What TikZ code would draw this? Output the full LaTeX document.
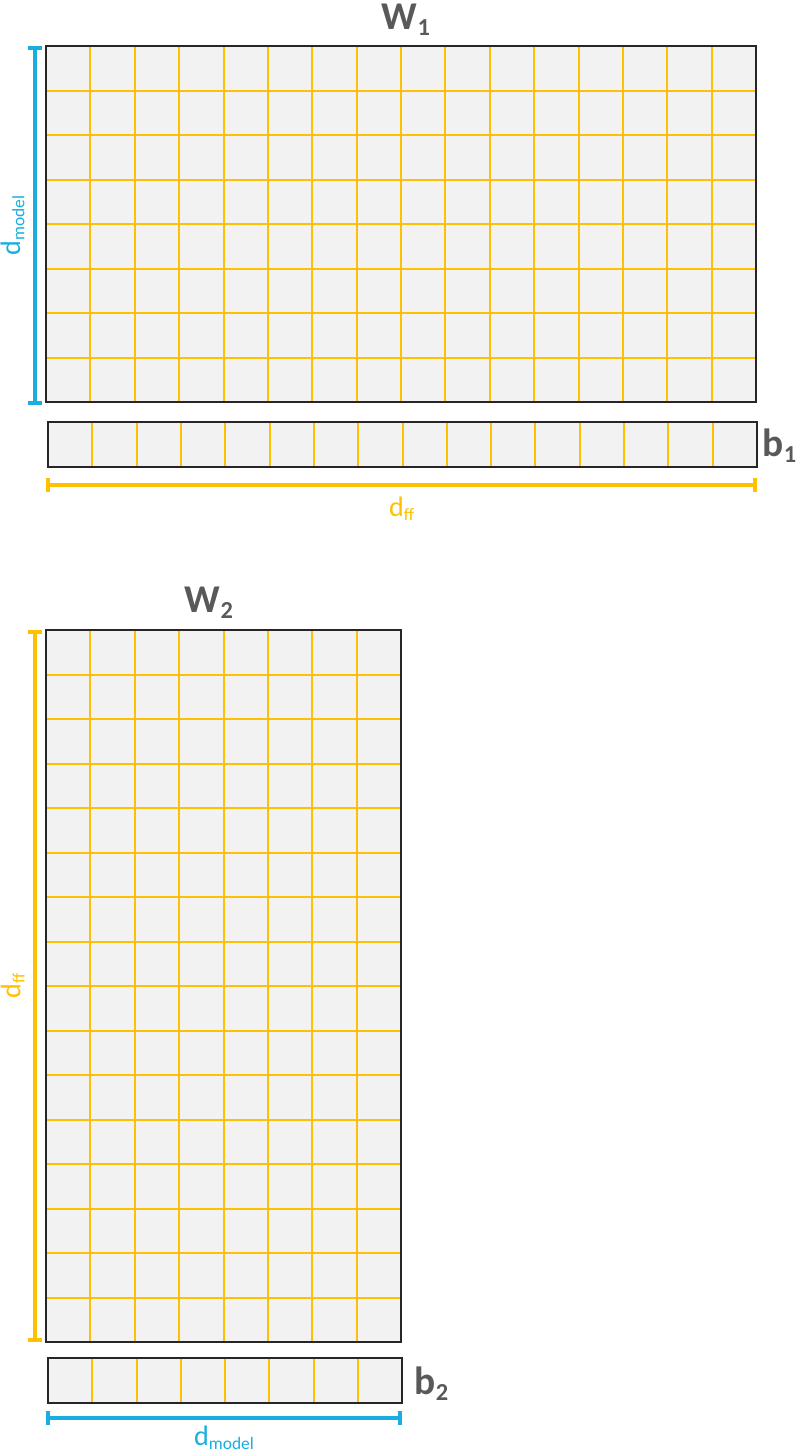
\documentclass[tikz,border=0pt]{standalone}
\usepackage{fontspec}
\setmainfont{Carlito}
\usetikzlibrary{arrows.meta}

\definecolor{cellgray}{HTML}{F2F2F2}
\definecolor{gridgold}{HTML}{FFC000}
\definecolor{dimblue}{HTML}{1AADE0}
\definecolor{labelgray}{HTML}{595959}

\newcommand{\lowsub}[1]{\raisebox{-0.32ex}{\fontsize{0.62em}{1em}\selectfont #1}}

\tikzset{
    matbox/.style={draw=black!85, line width=1.3pt},
    gridline/.style={draw=gridgold, line width=1.42pt},
    dimbar/.style={line width=2.8pt, {Bar[width=10pt]}-{Bar[width=10pt]}},
    matname/.style={text=labelgray, font=\fontsize{28}{30}\selectfont\bfseries, inner sep=1pt},
    dimname/.style={font=\fontsize{20}{22}\selectfont, inner sep=1pt},
}

\begin{document}
\begin{tikzpicture}[x=0.025cm, y=-0.025cm]
    \useasboundingbox (0,0) rectangle (800,1453);

    % W1 and b1
    \coordinate (w1tl) at (46, 46);
    \coordinate (w1br) at (756, 402);
    \fill[cellgray] (w1tl) rectangle (w1br);
    \foreach \i in {1,...,15}
        \draw[gridline] ({round(46+\i*710/16)}, 46) -- ({round(46+\i*710/16)}, 402);
    \foreach \j in {1,...,7}
        \draw[gridline] (46, {round(46+\j*356/8)}) -- (756, {round(46+\j*356/8)});
    \draw[matbox] (w1tl) rectangle (w1br);

    \coordinate (b1tl) at (48, 422);
    \coordinate (b1br) at (757, 467);
    \fill[cellgray] (b1tl) rectangle (b1br);
    \foreach \i in {1,...,15}
        \draw[gridline] ({round(48+\i*709/16)}, 422) -- ({round(48+\i*709/16)}, 467);
    \draw[matbox] (b1tl) rectangle (b1br);

    \node[matname] (w1name) at (406, 20) {W\lowsub{1}};
    \node[matname, anchor=west] (b1name) at (761, 446) {b\lowsub{1}};

    \coordinate (dm1top) at (35, 46);
    \coordinate (dm1bot) at (35, 405);
    \draw[dimbar, dimblue] (dm1top) -- (dm1bot)node[midway, left=5pt, rotate=90, anchor=south, dimname, text=dimblue]{d\lowsub{model}};
    \coordinate (dff1left) at (46, 485);
    \coordinate (dff1right) at (757, 485);
    \draw[dimbar, gridgold] (dff1left) -- (dff1right)node[midway, below=6pt, dimname, text=gridgold]{d\lowsub{ff}};

    % W2 and b2
    \coordinate (w2tl) at (46, 630);
    \coordinate (w2br) at (401, 1342);
    \fill[cellgray] (w2tl) rectangle (w2br);
    \foreach \i in {1,...,7}
        \draw[gridline] ({round(46+\i*355/8)}, 630) -- ({round(46+\i*355/8)}, 1342);
    \foreach \j in {1,...,15}
        \draw[gridline] (46, {round(630+\j*712/16)}) -- (401, {round(630+\j*712/16)});
    \draw[matbox] (w2tl) rectangle (w2br);

    \coordinate (b2tl) at (48, 1358);
    \coordinate (b2br) at (402, 1403);
    \fill[cellgray] (b2tl) rectangle (b2br);
    \foreach \i in {1,...,7}
        \draw[gridline] ({round(48+\i*354/8)}, 1358) -- ({round(48+\i*354/8)}, 1403);
    \draw[matbox] (b2tl) rectangle (b2br);

    \node[matname] (w2name) at (209, 603) {W\lowsub{2}};
    \node[matname, anchor=west] (b2name) at (413, 1384) {b\lowsub{2}};

    \coordinate (dff2top) at (35, 630);
    \coordinate (dff2bot) at (35, 1342);
    \draw[dimbar, gridgold] (dff2top) -- (dff2bot)node[midway, left=5pt, rotate=90, anchor=south, dimname, text=gridgold]{d\lowsub{ff}};
    \coordinate (dm2left) at (46, 1418);
    \coordinate (dm2right) at (402, 1418);
    \draw[dimbar, dimblue] (dm2left) -- (dm2right)node[midway, below=3pt, dimname, text=dimblue]{d\lowsub{model}};
\end{tikzpicture}
\end{document}
